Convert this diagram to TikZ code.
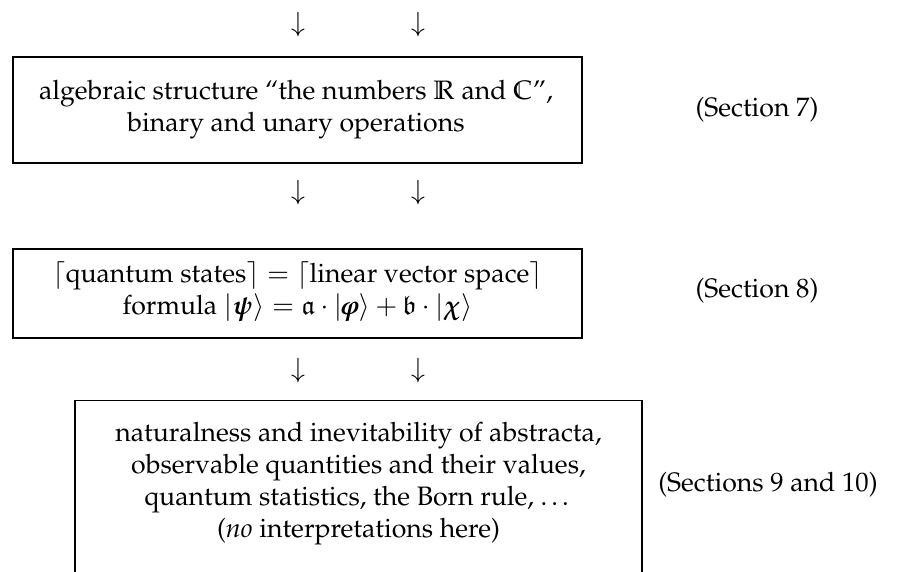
\documentclass[tikz,border=0pt]{standalone}
\usepackage[T1]{fontenc}
\usepackage{amsmath,amssymb}
\usepackage{mathpazo}
\usetikzlibrary{positioning}
\tikzset{
  boxnode/.style={draw, line width=0.5pt, inner sep=0pt},
  txt/.style={align=center, inner sep=0pt},
  arr/.style={inner sep=0pt},
  sec/.style={inner sep=0pt}
}
\begin{document}
\begin{tikzpicture}[x=0.375pt,y=-0.375pt]
\useasboundingbox (0,0) rectangle (899,572);
\clip (0,0) rectangle (899,572);
% row 1 arrows
\node[arr] (a1) at (298,25) {$\downarrow$};
\node[arr] (a2) at (418,25) {$\downarrow$};
% box 1
\node[boxnode, minimum width=213.4pt, minimum height=39.75pt] (b1) at (297.5,110) {};
\node[txt] (t1) at (296,110) {algebraic structure ``the numbers $\mathbb{R}$ and $\mathbb{C}$'',\\ binary and unary operations};
\node[sec] (s1) at (757,110) {(Section 7)};
% row 2 arrows
\node[arr] (a3) at (298,193) {$\downarrow$};
\node[arr] (a4) at (418,193) {$\downarrow$};
% box 2
\node[boxnode, minimum width=213.4pt, minimum height=33.4pt] (b2) at (297.5,293.5) {};
\node[txt] (t2) at (297.5,291.5) {$\lceil$quantum states$\rceil = \lceil$linear vector space$\rceil$\\ formula $|\boldsymbol{\psi}\rangle = \mathfrak{a}\cdot|\boldsymbol{\varphi}\rangle + \mathfrak{b}\cdot|\boldsymbol{\chi}\rangle$};
\node[sec] (s2) at (757,291) {(Section 8)};
% row 3 arrows
\node[arr] (a5) at (298,371) {$\downarrow$};
\node[arr] (a6) at (418,371) {$\downarrow$};
% box 3
\node[boxnode, minimum width=212.6pt, minimum height=82pt] (b3) at (358.5,510) {};
\node[txt] (t3) at (358.5,484) {naturalness and inevitability of abstracta,\\ observable quantities and their values,\\ quantum statistics, the Born rule, \ldots\\ (\emph{no} interpretations here)};
\node[sec] (s3) at (768,485) {(Sections 9 and 10)};
\end{tikzpicture}
\end{document}
